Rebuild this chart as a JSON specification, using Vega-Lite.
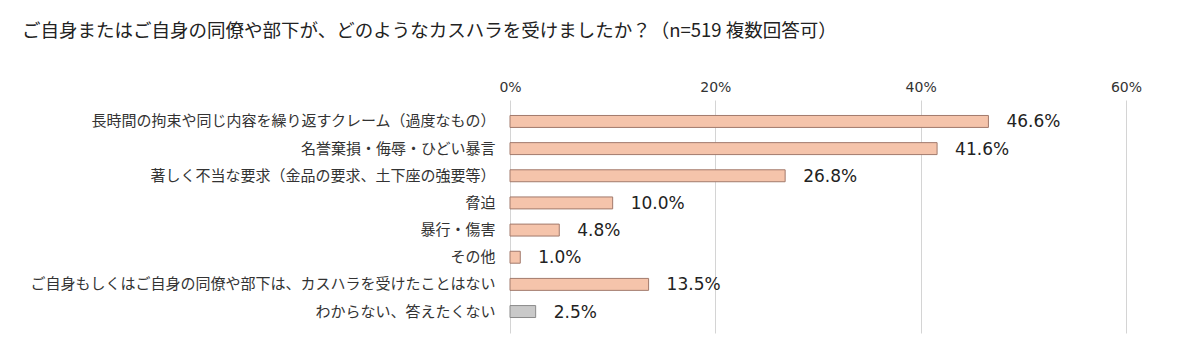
{
  "$schema": "https://vega.github.io/schema/vega-lite/v6.json",
  "autosize": "none",
  "width": 616,
  "height": 233,
  "padding": {"left": 510, "top": 100, "right": 55, "bottom": 23},
  "background": "white",
  "config": {"view": {"stroke": null}, "font": "Noto Sans CJK JP"},
  "title": {
    "text": "ご自身またはご自身の同僚や部下が、どのようなカスハラを受けましたか？（n=519 複数回答可）",
    "anchor": "start",
    "frame": "group",
    "dx": -488,
    "offset": 40,
    "fontSize": 18.5,
    "fontWeight": "normal",
    "color": "#222222",
    "font": "Noto Sans CJK JP"
  },
  "data": {
    "values": [
      {"item": "長時間の拘束や同じ内容を繰り返すクレーム（過度なもの）", "value": 46.6, "label": "46.6%"},
      {"item": "名誉棄損・侮辱・ひどい暴言", "value": 41.6, "label": "41.6%"},
      {"item": "著しく不当な要求（金品の要求、土下座の強要等）", "value": 26.8, "label": "26.8%"},
      {"item": "脅迫", "value": 10.0, "label": "10.0%"},
      {"item": "暴行・傷害", "value": 4.8, "label": "4.8%"},
      {"item": "その他", "value": 1.0, "label": "1.0%"},
      {"item": "ご自身もしくはご自身の同僚や部下は、カスハラを受けたことはない", "value": 13.5, "label": "13.5%"},
      {"item": "わからない、答えたくない", "value": 2.5, "label": "2.5%"}
    ]
  },
  "encoding": {
    "y": {
      "field": "item",
      "type": "nominal",
      "sort": null,
      "scale": {"paddingInner": 0.56, "paddingOuter": 0.57},
      "axis": {
        "title": null,
        "domain": false,
        "ticks": false,
        "labelPadding": 15,
        "labelFontSize": 15,
        "labelColor": "#333333",
        "labelLimit": 500,
        "labelFont": "Noto Sans CJK JP"
      }
    }
  },
  "layer": [
    {
      "mark": {"type": "bar", "strokeWidth": 1},
      "encoding": {
        "x": {
          "field": "value",
          "type": "quantitative",
          "scale": {"domain": [0, 60], "nice": false},
          "axis": {
            "orient": "top",
            "values": [0, 20, 40, 60],
            "labelExpr": "datum.value + '%'",
            "labelFlush": false,
            "title": null,
            "domain": false,
            "ticks": false,
            "grid": true,
            "gridColor": "#d4d4d4",
            "gridWidth": 1,
            "labelFontSize": 14,
            "labelColor": "#333333",
            "labelPadding": 6,
            "labelFont": "DejaVu Sans"
          }
        },
        "color": {
          "condition": {"test": "datum.item === 'わからない、答えたくない'", "value": "#c9c9c9"},
          "value": "#f5c4ab"
        },
        "stroke": {
          "condition": {"test": "datum.item === 'わからない、答えたくない'", "value": "#8a8a8a"},
          "value": "#a27a6c"
        }
      }
    },
    {
      "mark": {"type": "text", "align": "left", "dx": 18, "dy": 1, "fontSize": 17, "color": "#222222", "font": "DejaVu Sans"},
      "encoding": {
        "x": {"field": "value", "type": "quantitative"},
        "text": {"field": "label"}
      }
    }
  ]
}
